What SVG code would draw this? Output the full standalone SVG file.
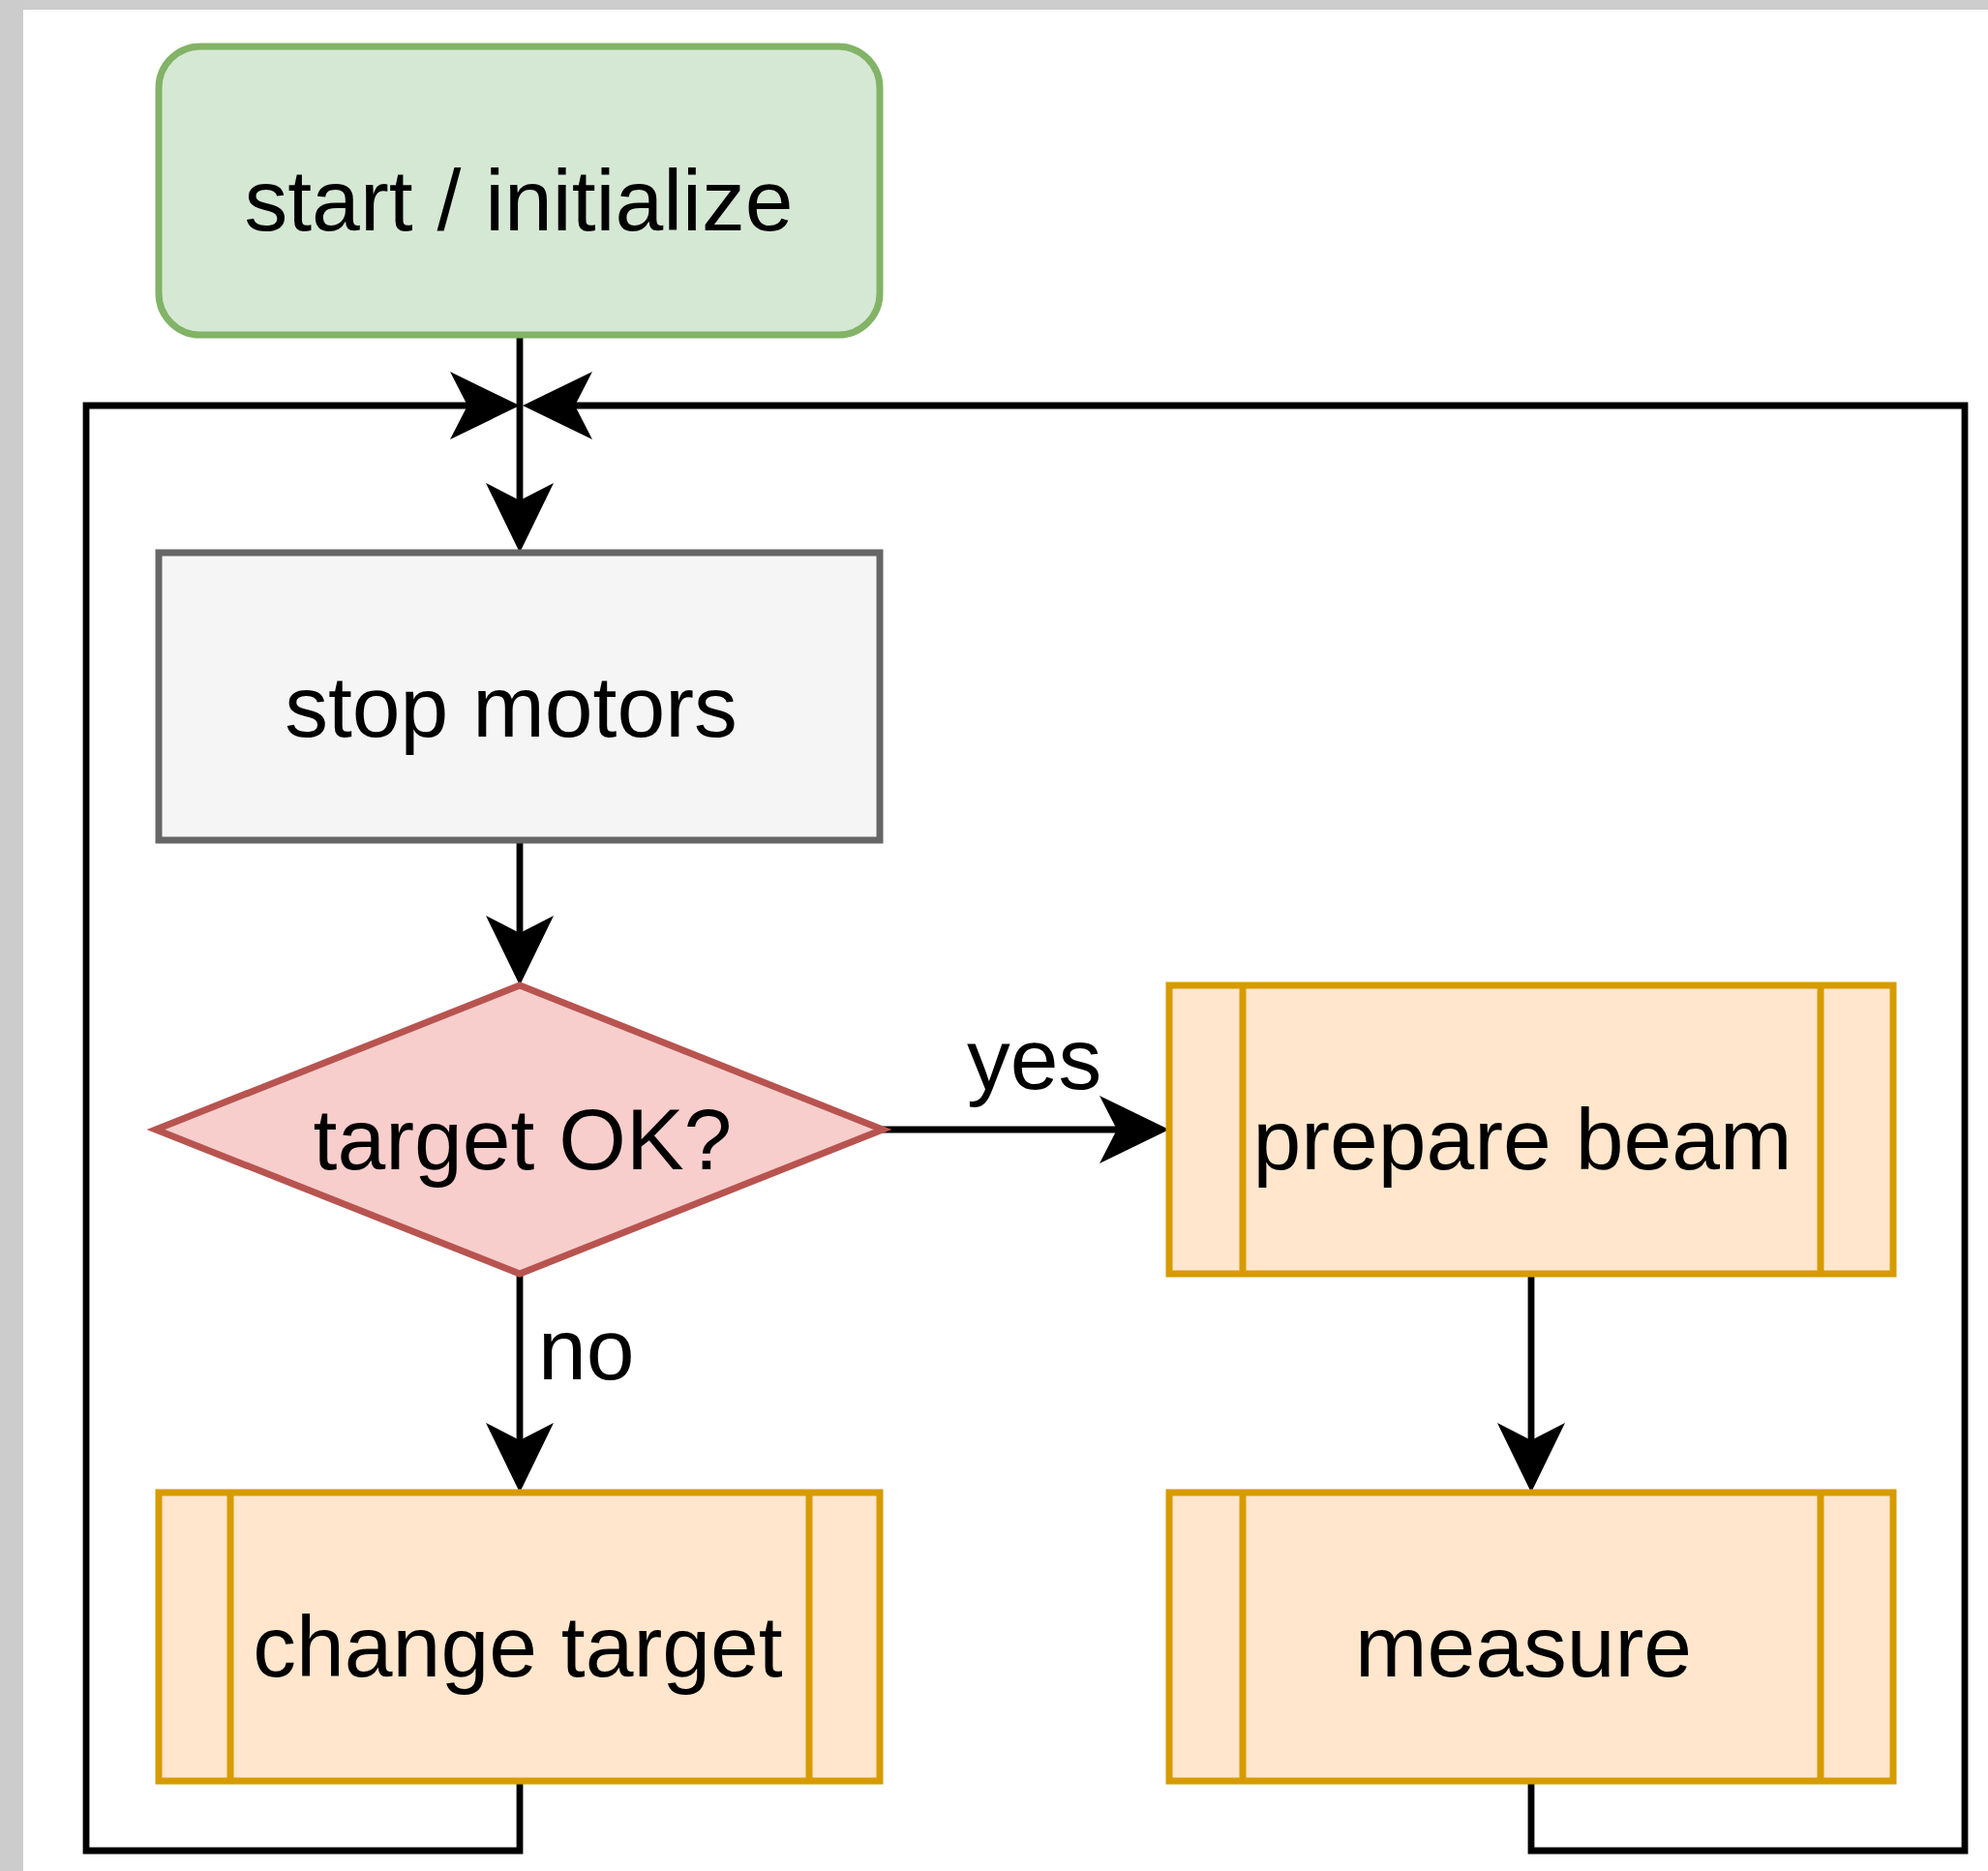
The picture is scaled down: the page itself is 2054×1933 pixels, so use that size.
<svg xmlns="http://www.w3.org/2000/svg" width="2054" height="1933" viewBox="0 0 2054 1933">
<defs>
<style>
.lbl{font-family:"Liberation Sans",Arial,Helvetica,sans-serif;font-size:89.5px;fill:#000}
.node text{text-anchor:middle}
.proc{fill:#ffe6cc;stroke:#d79b00;stroke-width:7}
.edge{fill:none;stroke:#000;stroke-width:6.8;marker-end:url(#arr)}
</style>
<marker id="arr" markerUnits="userSpaceOnUse" orient="auto" overflow="visible" refX="0" refY="0" markerWidth="1" markerHeight="1">
<path d="M50,0 L-22,-35 L-4,0 L-22,35 Z" fill="#000"/>
</marker>
</defs>
<rect x="0" y="0" width="2054" height="1933" fill="#cccccc"/>
<rect x="24" y="10" width="2030" height="1923" fill="#ffffff"/>

<g id="connectors">
<path class="edge" d="M537,346 L537,521"/>
<path class="edge" d="M537,1840 L537,1912 L89,1912 L89,419 L487,419"/>
<path class="edge" d="M1582,1840 L1582,1912 L2030,1912 L2030,419 L590,419"/>
<path class="edge" d="M537,868 L537,968"/>
<path class="edge" d="M912,1167 L1158,1167"/>
<path class="edge" d="M537,1316 L537,1492"/>
<path class="edge" d="M1582,1316 L1582,1492"/>
<text class="lbl" x="999" y="1125">yes</text>
<text class="lbl" x="556" y="1425">no</text>
</g>

<g id="start" class="node">
<rect x="164" y="48" width="745" height="298" rx="43" ry="43" fill="#d5e8d4" stroke="#82b366" stroke-width="7"/>
<text class="lbl" x="536" y="238">start / initialize</text>
</g>

<g id="stop-motors" class="node">
<rect x="164" y="571" width="745" height="297" fill="#f5f5f5" stroke="#666666" stroke-width="7"/>
<text class="lbl" x="528" y="761">stop motors</text>
</g>

<g id="target-ok" class="node">
<polygon points="161,1167 537,1018 912,1167 537,1316" fill="#f8cecc" stroke="#b85450" stroke-width="7"/>
<text class="lbl" x="540" y="1208">target OK?</text>
</g>

<g id="prepare-beam" class="node">
<rect class="proc" x="1208" y="1018" width="748" height="298"/>
<line class="proc" x1="1284" y1="1018" x2="1284" y2="1316"/>
<line class="proc" x1="1881" y1="1018" x2="1881" y2="1316"/>
<text class="lbl" x="1573" y="1208">prepare beam</text>
</g>

<g id="change-target" class="node">
<rect class="proc" x="164" y="1542" width="745" height="298"/>
<line class="proc" x1="238" y1="1542" x2="238" y2="1840"/>
<line class="proc" x1="836" y1="1542" x2="836" y2="1840"/>
<text class="lbl" x="535" y="1732">change target</text>
</g>

<g id="measure" class="node">
<rect class="proc" x="1208" y="1542" width="748" height="298"/>
<line class="proc" x1="1284" y1="1542" x2="1284" y2="1840"/>
<line class="proc" x1="1881" y1="1542" x2="1881" y2="1840"/>
<text class="lbl" x="1574" y="1732">measure</text>
</g>
</svg>
